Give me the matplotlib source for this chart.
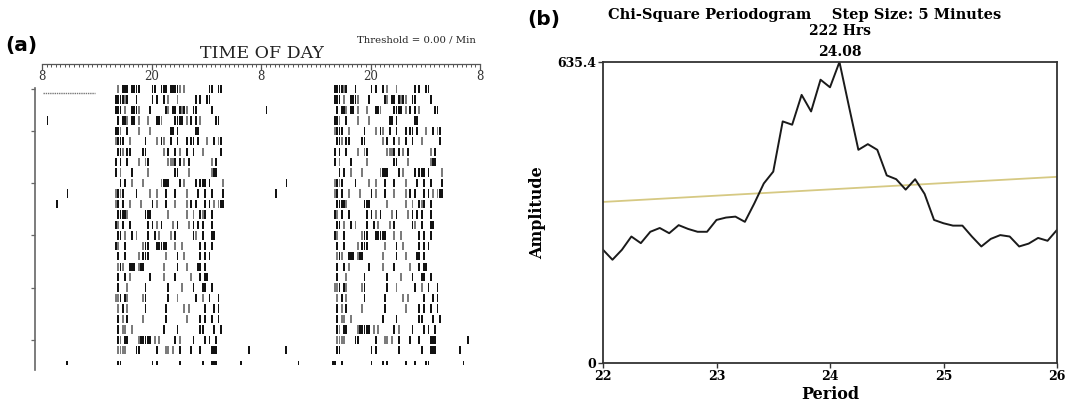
import matplotlib.pyplot as plt
import numpy as np

# ---------------- (a) double-plotted actogram ----------------
# activity bins of 15 min, counted from 7.5 h after the 08:00 start of the axis
bin_start_h = 7.5
bin_h = 0.25
active_bins = [
    [3, 5, 6, 7, 9, 10, 11, 12, 18, 19, 22, 23, 24, 26, 27, 28, 29, 30, 32, 43, 44, 47, 48],
    [2, 3, 4, 5, 6, 7, 11, 18, 20, 23, 25, 29, 37, 39, 42, 43],
    [2, 3, 4, 6, 9, 10, 11, 12, 17, 24, 25, 27, 28, 30, 31, 32, 33, 36, 37, 44],
    [3, 5, 6, 7, 9, 10, 12, 16, 20, 21, 22, 28, 29, 30, 31, 33, 35, 37, 39, 46, 47],
    [2, 3, 4, 7, 12, 17, 26, 27, 29, 37, 38],
    [2, 3, 4, 5, 8, 15, 20, 22, 23, 26, 29, 33, 35, 36, 38, 42, 45, 47, 48],
    [3, 4, 5, 7, 8, 14, 15, 23, 25, 28, 30, 33, 36, 40, 48],
    [2, 4, 7, 12, 15, 16, 25, 26, 27, 28, 30, 32, 34, 44, 46],
    [2, 4, 9, 16, 28, 29, 34, 44, 45, 46],
    [4, 6, 9, 14, 22, 23, 24, 25, 30, 32, 37, 39, 40, 41, 43, 49],
    [2, 3, 4, 5, 11, 17, 20, 24, 28, 33, 38, 41, 44, 49],
    [2, 3, 5, 8, 13, 18, 20, 24, 28, 33, 35, 37, 41, 43, 45, 47, 48, 49],
    [3, 4, 5, 6, 7, 15, 16, 17, 25, 33, 36, 39, 40, 41, 44],
    [2, 3, 5, 8, 16, 18, 20, 22, 27, 29, 34, 36, 38, 40, 44],
    [3, 4, 6, 9, 11, 16, 19, 21, 26, 28, 36, 37, 40, 44, 45],
    [2, 3, 6, 14, 15, 16, 20, 21, 22, 23, 24, 28, 31, 39, 41, 44],
    [3, 6, 12, 14, 15, 16, 24, 29, 32, 39, 41, 43],
    [3, 4, 5, 8, 9, 10, 12, 13, 14, 23, 29, 33, 38, 39, 41],
    [3, 6, 8, 17, 23, 28, 35, 39, 41, 42],
    [3, 7, 15, 25, 31, 36, 40, 41, 44],
    [2, 3, 4, 6, 7, 14, 15, 25, 29, 37, 40, 43, 47],
    [3, 5, 7, 15, 24, 32, 34, 41, 45, 47],
    [3, 5, 7, 14, 24, 33, 39, 41, 44, 47],
    [3, 5, 6, 9, 23, 29, 39, 40, 45, 48],
    [3, 4, 6, 7, 12, 13, 14, 15, 16, 17, 19, 21, 28, 30, 36, 41, 43, 46],
    [3, 4, 5, 6, 11, 12, 20, 24, 25, 27, 30, 35, 39, 44, 45, 46],
    [3, 4, 18, 20, 30, 40, 44, 45, 46],
    [1, 2, 5, 18, 23, 25, 33, 37, 42, 43],
]
light_bins = [
    [3, 30, 32], [6, 25, 29], [6, 12, 25, 31, 33], [7, 12, 16, 22, 33, 39],
    [4, 12, 17], [2, 8, 20, 23, 42, 47], [5, 23, 30, 40], [12, 15, 25, 26, 27, 32, 44],
    [4, 16, 34, 44], [9, 14, 22, 32, 49], [2, 4, 17, 20, 33], [2, 8, 13, 20, 28, 33, 45, 47],
    [7, 25, 33, 36, 40], [3, 20, 27, 34], [6, 11, 21, 26, 37], [3, 14, 28, 31],
    [12, 24, 32], [3, 5, 12, 23, 33], [8, 23, 35], [7, 31],
    [2, 3, 7, 14, 29, 40], [3, 7, 32, 34], [5, 14, 33], [5, 6, 9],
    [4, 12, 19, 21, 30], [3, 4, 5, 6, 24, 25, 27], [], [],
]
# isolated counts outside the main active window: (day index, hours after 08:00)
stray_events = [(3, 0.5), (10, 2.7), (11, 1.5), (25, 22.6), (26, 2.6), (26, 21.7), (27, 4.0), (27, 22.1)]
baseline_hours = (0.1, 5.8)
day_ticks = [1, 5, 10, 15, 20, 25]
clock_ticks = [0, 12, 24, 36, 48]
clock_labels = ["8", "20", "8", "20", "8"]

# ---------------- (b) chi-square periodogram ----------------
step_min = 5
amplitude = [239, 218, 239, 267, 253, 277, 285, 274, 291, 283, 277, 277, 302, 307, 309, 298,
             337, 379, 404, 510, 503, 566, 531, 598, 582, 635.4, 542, 450, 462, 450, 396, 388,
             366, 388, 357, 302, 295, 290, 290, 267, 246, 262, 270, 267, 246, 252, 264, 258, 281]
periods = 22 + np.arange(len(amplitude)) * step_min / 60
threshold_periods = [22, 26]
threshold_values = [340, 393]
y_max = 635.4

dark = "#121212"
light = "#7c7c7c"

fig = plt.figure(figsize=(10.74, 4.07), dpi=100)

# ---- panel a
ax = fig.add_axes([42 / 1074, 35 / 407, 438 / 1074, 308 / 407])
n_rows = len(active_bins) - 1
xs, bots, hs, cols = [], [], [], []


def add_bar(row, x, color):
    if row == n_rows - 1:
        bots.append(row + 0.5)
        hs.append(0.4)
    else:
        bots.append(row + 0.1)
        hs.append(0.8)
    xs.append(x)
    cols.append(color)


for r in range(n_rows):
    for half in (0, 1):
        d = r + half
        for b in active_bins[d]:
            c = light if b in light_bins[d] else dark
            add_bar(r, half * 24 + bin_start_h + b * bin_h, c)

for d, hr in stray_events:
    if d < n_rows:
        add_bar(d, hr, dark)
    if d >= 1:
        add_bar(d - 1, 24 + hr, dark)

ax.bar(xs, hs, width=0.2, bottom=bots, color=cols, align="edge", linewidth=0)
ax.hlines(0.85, baseline_hours[0], baseline_hours[1], color="#777777", lw=1.0, linestyle=(0, (1, 0.6)))

ax.set_xlim(0, 48)
ax.set_ylim(27.58, -1.9)
ax.xaxis.tick_top()
ax.set_xticks(clock_ticks)
ax.set_xticklabels(clock_labels, family="DejaVu Serif", fontsize=8.5, color="#333333")
ax.set_xticks(np.arange(0, 48.01, 0.5), minor=True)
ax.tick_params(axis="x", which="both", direction="in", top=True, bottom=False,
               labeltop=True, labelbottom=False, pad=-13.5, color="#555555")
ax.tick_params(axis="x", which="major", length=4, width=0.9)
ax.tick_params(axis="x", which="minor", length=2.2, width=0.7)
ax.set_yticks([d - 0.5 for d in day_ticks])
ax.set_yticklabels([])
ax.tick_params(axis="y", direction="out", length=3, width=0.9, color="#666666")
for s in ("right", "bottom"):
    ax.spines[s].set_visible(False)
ax.spines["top"].set_color("#555555")
ax.spines["top"].set_linewidth(0.9)
ax.spines["left"].set_position(("outward", 5))
ax.spines["left"].set_bounds(0.4, 27.4)
ax.spines["left"].set_color("#666666")
ax.spines["left"].set_linewidth(1.2)

fig.text(262 / 1074, 1 - 53 / 407, "TIME OF DAY", family="DejaVu Serif", fontsize=12.5,
         ha="center", va="center", color="#222222")
fig.text(357 / 1074, 1 - 40 / 407, "Threshold = 0.00 / Min", family="DejaVu Serif", fontsize=7.3,
         ha="left", va="center", color="#222222")
fig.text(5 / 1074, 1 - 46 / 407, "(a)", family="DejaVu Sans", fontweight="bold", fontsize=14.5,
         ha="left", va="center")

# ---- panel b
bold_serif = dict(family="DejaVu Serif", fontweight="bold")
ax2 = fig.add_axes([603 / 1074, 44 / 407, 454 / 1074, 301 / 407])
ax2.plot(threshold_periods, threshold_values, color="#d6c983", lw=1.3)
ax2.plot(periods, amplitude, color="#1a1a1a", lw=1.4)
ax2.set_xlim(22, 26)
ax2.set_ylim(0, y_max)
ax2.set_xticks([22, 23, 24, 25, 26])
ax2.set_xticklabels(["22", "23", "24", "25", "26"], fontsize=9, **bold_serif)
ax2.set_yticks([0, y_max])
ax2.set_yticklabels(["0", "635.4"], fontsize=9, **bold_serif)
ax2.tick_params(direction="out", length=3.5, width=1.0, pad=1.5, color="#333333")
for s in ax2.spines.values():
    s.set_linewidth(1.3)
    s.set_color("#333333")
ax2.set_xlabel("Period", fontsize=11.5, **bold_serif)
ax2.xaxis.set_label_coords(0.5, -0.075)
ax2.set_ylabel("Amplitude", fontsize=11.5, **bold_serif)
ax2.yaxis.set_label_coords(-0.125, 0.5)

peak = int(np.argmax(amplitude))
ax2.annotate(f"{periods[peak]:.2f}", xy=(periods[peak], y_max), xytext=(0, 2.5),
             textcoords="offset points", ha="center", va="bottom", fontsize=10, **bold_serif)
fig.text(805 / 1074, 1 - 15 / 407, "Chi-Square Periodogram    Step Size: 5 Minutes",
         fontsize=10.5, ha="center", va="center", **bold_serif)
fig.text(840 / 1074, 1 - 31 / 407, "222 Hrs", fontsize=10, ha="center", va="center", **bold_serif)
fig.text(527 / 1074, 1 - 20 / 407, "(b)", family="DejaVu Sans", fontweight="bold", fontsize=14.5,
         ha="left", va="center")

fig.savefig("out.png", dpi=100)
